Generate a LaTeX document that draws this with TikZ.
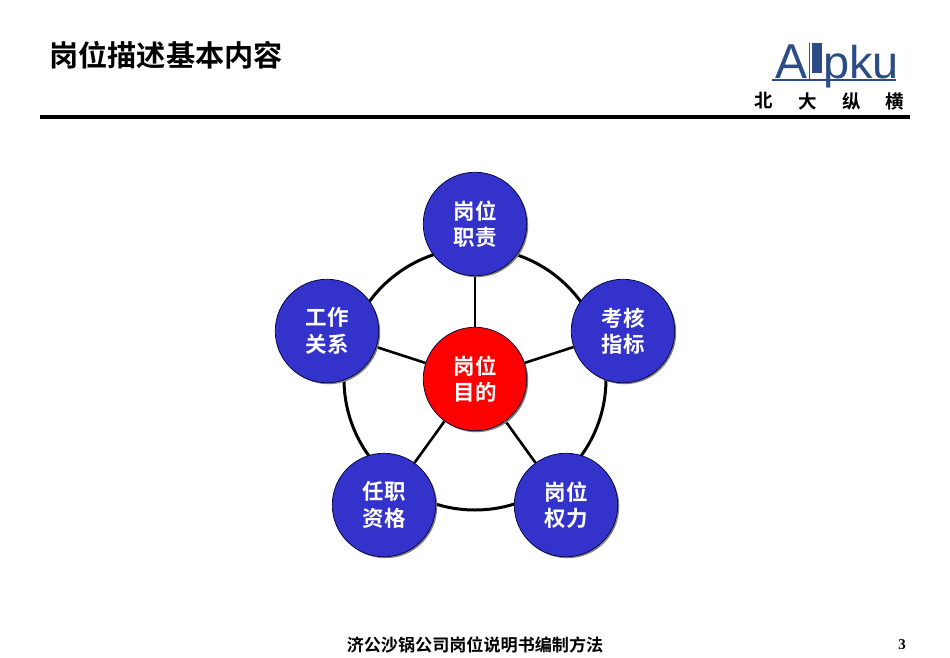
\documentclass[tikz,border=0pt]{standalone}
\usepackage{fontspec}
\usetikzlibrary{backgrounds,shadows}
\setmainfont{Liberation Sans}
\newfontfamily\cjkb{Noto Sans CJK SC Bold}
\newfontfamily\numfont{Liberation Serif}
\definecolor{discblue}{HTML}{3333CC}
\definecolor{logoblue}{HTML}{2B4C86}
\tikzset{
  disc/.style={circle,draw=black!80!blue,line width=0.7pt,inner sep=0pt,minimum size=103.5pt,
    text=white,align=center,font=\fontsize{21.5}{26.5}\selectfont\cjkb,
    general shadow={fill=black!50,shadow xshift=1.5pt,shadow yshift=-1.5pt}},
  outerdisc/.style={disc,fill=discblue},
  centredisc/.style={disc,fill=red},
  ringline/.style={draw=black,line width=3pt},
  spoke/.style={draw=black,line width=2.6pt},
  logotext/.style={text=logoblue,inner sep=0pt,anchor=base west},
  motto/.style={font=\fontsize{18.5}{18.5}\selectfont\cjkb,inner sep=0pt}
}
\begin{document}
\begin{tikzpicture}[x=1pt,y=-1pt]
\useasboundingbox (0,0) rectangle (950,658);
% header
\node[anchor=west,inner sep=0pt,font=\fontsize{29.2}{30}\selectfont\cjkb] (title) at (49,55.5) {岗位描述基本内容};
\coordinate (ruleL) at (40,117);
\coordinate (ruleR) at (910,117);
\draw[black,line width=3.6pt] (ruleL) -- (ruleR);
% logo
\node[logotext,font=\fontsize{49}{49}\selectfont,xscale=0.98] (logoA) at (775,79) {A};
\fill[logoblue] (812,43) rectangle (822,73);
\draw[logoblue,line width=1pt] (809.5,43) -- (809.5,79);
\node[logotext,font=\fontsize{46}{46}\selectfont,xscale=1.02,text=logoblue] (logoP) at (823,79) {pku};
\draw[logoblue,line width=2.2pt] (772,80) -- (896,80);
\node[motto] (m1) at (764,101) {北};
\node[motto] (m2) at (808,101) {大};
\node[motto] (m3) at (852,101) {纵};
\node[motto] (m4) at (895,101) {横};
% discs
\node[centredisc] (c) at (475,379) {\raisebox{-1pt}{岗位}\\\raisebox{-1pt}{目的}};
\node[outerdisc] (n1) at (475,224) {\raisebox{-1pt}{岗位}\\\raisebox{-1pt}{职责}};
\node[outerdisc] (n2) at (623,331) {\raisebox{-1pt}{考核}\\\raisebox{-1pt}{指标}};
\node[outerdisc] (n3) at (566,505) {\raisebox{-1pt}{岗位}\\\raisebox{-1pt}{权力}};
\node[outerdisc] (n4) at (384,505) {\raisebox{-1pt}{任职}\\\raisebox{-1pt}{资格}};
\node[outerdisc] (n5) at (327,331) {\raisebox{-1pt}{工作}\\\raisebox{-1pt}{关系}};
\begin{scope}[on background layer]
  \fill[white] (0,0) rectangle (950,658);
  \draw[ringline] (c.center) circle[radius=131];
  \foreach \n in {n1,n2,n3,n4,n5} \draw[spoke] (c) -- (\n);
\end{scope}
% footer
\node[inner sep=0pt,font=\fontsize{17.1}{17}\selectfont\cjkb] (foot) at (475,645) {济公沙锅公司岗位说明书编制方法};
\node[inner sep=0pt,font=\fontsize{15}{15}\selectfont\numfont\bfseries] (page) at (902,645) {3};
\end{tikzpicture}
\end{document}
